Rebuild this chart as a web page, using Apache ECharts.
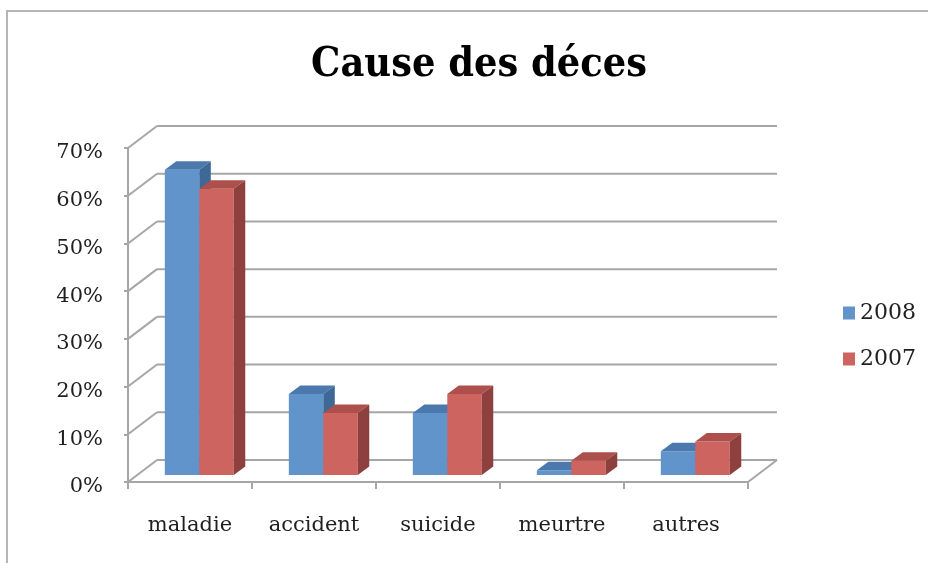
<!DOCTYPE html>
<html>
<head>
<meta charset="utf-8">
<script src="https://cdn.jsdelivr.net/npm/echarts@6.0.0/dist/echarts.min.js"></script>
<style>
  html, body { margin: 0; padding: 0; background: #fff; }
  #chart { width: 928px; height: 563px; }
</style>
</head>
<body>
<div id="chart"></div>
<script>
var categories = ['maladie', 'accident', 'suicide', 'meurtre', 'autres'];
var values2008 = [64, 17, 13, 1, 5];
var values2007 = [60, 13, 17, 3, 7];
var yTicks = [0, 10, 20, 30, 40, 50, 60, 70];

// profondeur du "3D"
var DX = 29, DY = -22;        // mur du fond
var SX = 9.3, SY = -7;        // plan avant des barres
var BDX = 11.5, BDY = -8.5;   // epaisseur des barres
var serif = 'DejaVu Serif';
var gridColor = '#a6a6a6';

function wallItem(params, api) {
    var v = api.value(1);
    var p = api.coord([0, v]);
    var half = api.size([1, 0])[0] / 2;
    var xl = p[0] - half;
    var xr = api.coord([categories.length - 1, v])[0] + half;
    var y = p[1];
    var style = { stroke: gridColor, lineWidth: 2 };
    var children = [
        { type: 'line', shape: { x1: xl, y1: y, x2: xl + DX, y2: y + DY }, style: style },
        { type: 'line', shape: { x1: xl + DX, y1: y + DY, x2: xr + DX, y2: y + DY }, style: style }
    ];
    if (v === 0) {
        children.push({ type: 'line', shape: { x1: xr, y1: y, x2: xr + DX, y2: y + DY }, style: style });
    }
    return { type: 'group', children: children };
}

function barSeries(name, values, colors, left) {
    return {
        name: name,
        type: 'custom',
        z: 3,
        itemStyle: { color: colors[0] },
        data: values.map(function (v, i) { return [i, v]; }),
        encode: { x: 0, y: 1 },
        renderItem: function (params, api) {
            var idx = api.value(0), val = api.value(1);
            var base = api.coord([idx, 0]);
            var top = api.coord([idx, val]);
            var bw = api.size([1, 0])[0] * 0.278;
            var x0 = base[0] + SX + (left ? -bw : 0);
            var x1 = x0 + bw;
            var yb = base[1] + SY, yt = top[1] + SY;
            return {
                type: 'group',
                children: [
                    { type: 'rect', shape: { x: x0, y: yt, width: bw, height: yb - yt }, style: { fill: colors[0] } },
                    { type: 'polygon', shape: { points: [[x0, yt], [x1, yt], [x1 + BDX, yt + BDY], [x0 + BDX, yt + BDY]] }, style: { fill: colors[1] } },
                    { type: 'polygon', shape: { points: [[x1, yt], [x1 + BDX, yt + BDY], [x1 + BDX, yb + BDY], [x1, yb]] }, style: { fill: colors[2] } }
                ]
            };
        }
    };
}

var chart = echarts.init(document.getElementById('chart'));
var option = {
    backgroundColor: '#fff',
    animation: false,
    title: {
        text: 'Cause des déces',
        left: 474,
        textAlign: 'center',
        top: 40,
        textStyle: { fontFamily: '"DejaVu Serif Condensed", "DejaVu Serif"', fontWeight: 'bold', fontSize: 41, color: '#000' }
    },
    graphic: [{
        type: 'rect',
        shape: { x: 7, y: 11, width: 1000, height: 1000 },
        style: { fill: null, stroke: '#b5b5b5', lineWidth: 2 },
        silent: true
    }],
    legend: {
        data: ['2008', '2007'],
        orient: 'vertical',
        left: 838,
        top: 296,
        icon: 'rect',
        itemWidth: 12,
        itemHeight: 13,
        itemGap: 22,
        textStyle: { fontFamily: serif, fontSize: 22, color: '#1f1f1f', lineHeight: 24 }
    },
    grid: { left: 128, right: 180, top: 148, bottom: 81 },
    xAxis: {
        type: 'category',
        data: categories,
        axisLine: { show: true, lineStyle: { color: gridColor, width: 2 } },
        axisTick: { show: true, length: 7, lineStyle: { color: gridColor, width: 2 } },
        axisLabel: { fontFamily: serif, fontSize: 21, color: '#1f1f1f', margin: 33 }
    },
    yAxis: {
        type: 'value',
        min: 0,
        max: 70,
        interval: 10,
        splitLine: { show: false },
        axisLine: { show: true, lineStyle: { color: gridColor, width: 2 } },
        axisTick: { show: true, length: 4, lineStyle: { color: gridColor, width: 2 } },
        axisLabel: { formatter: '{value}%', fontFamily: serif, fontSize: 21, color: '#1f1f1f', margin: 25, verticalAlign: 'top', lineHeight: 10 }
    },
    series: [
        {
            type: 'custom',
            z: 1,
            silent: true,
            data: yTicks.map(function (v) { return [0, v]; }),
            encode: { x: 0, y: 1 },
            renderItem: wallItem
        },
        barSeries('2008', values2008, ['#6094ca', '#4b79ad', '#3e6896'], true),
        barSeries('2007', values2007, ['#cd645f', '#ad4f4a', '#8d403d'], false)
    ]
};
chart.setOption(option);
</script>
</body>
</html>
